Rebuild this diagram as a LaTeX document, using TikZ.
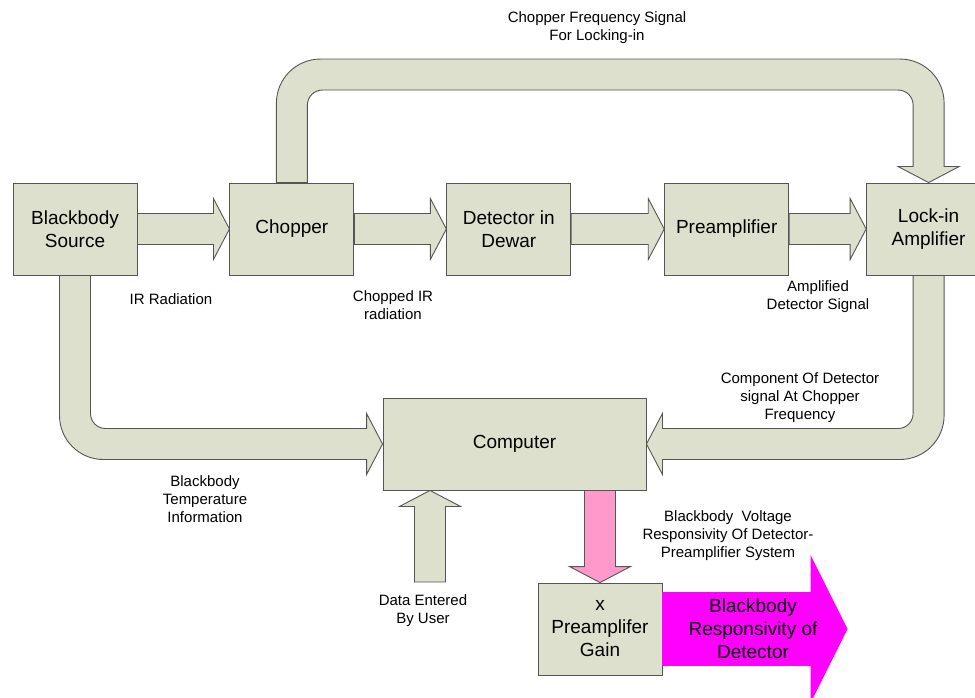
\documentclass[tikz,border=0pt]{standalone}
\usepackage{fontspec}
\setmainfont{Liberation Sans}
\usepackage{tikz}
\usetikzlibrary{positioning,calc}

\definecolor{boxfill}{RGB}{221,224,204}
\definecolor{boxline}{RGB}{85,85,85}
\definecolor{pinkarrow}{RGB}{255,153,204}
\definecolor{magarrow}{RGB}{255,0,255}

\tikzset{
  block/.style={rectangle, draw=boxline, fill=boxfill, line width=0.9pt, minimum width=124pt, minimum height=92pt, align=center, font=\fontsize{19}{23}\selectfont},
  lbl/.style={align=center, font=\fontsize{15}{18}\selectfont},
  fat/.style={draw=boxline, fill=boxfill, line width=0.9pt, line join=miter},
}

\begin{document}
\begin{tikzpicture}[x=1pt, y=-1pt]
        \useasboundingbox (0,0) rectangle (975,698);

        \node[block] (bbNode) at (75, 229) {Blackbody\\Source};
        \node[block] (chopNode) [right = 92pt of bbNode] {Chopper};
        \node[block] (detNode) [right = 92pt of chopNode] {Detector in\\Dewar};
        \node[block] (preNode) [right = 93pt of detNode] {Preamplifier};
        \node[block] (lockNode) [right = 77pt of preNode] {Lock-in\\Amplifier};
        \node[block, minimum width=263pt] (compNode) at (514.5, 444) {Computer};
        \node[block] (gainNode) at (600, 629) {x\\Preamplifer\\Gain};
        \coordinate (userPt) at (430, 582);
        \coordinate (userTip) at (compNode.south -| userPt);
        \coordinate (gainTop) at (compNode.south -| gainNode.north);
        \coordinate (respTip) at (847, 629);

        % straight arrows along the top row
        \foreach \a/\b in {bbNode/chopNode, chopNode/detNode, detNode/preNode, preNode/lockNode}
          \draw[fat] ($(\a.east)+(0,-15.5)$) -- ($(\b.west)+(-16,-15.5)$) -- ($(\b.west)+(-16,-30.5)$) -- (\b.west)
            -- ($(\b.west)+(-16,30.5)$) -- ($(\b.west)+(-16,15.5)$) -- ($(\a.east)+(0,15.5)$) -- cycle;

        % chopper -> lock-in
        \draw[fat] ($(chopNode.north)+(-15.5,0)$) [rounded corners=44pt] |- ($(lockNode.north)+(15.5,-123.5)$)
          [sharp corners] -- ($(lockNode.north)+(15.5,-16)$) -- ($(lockNode.north)+(30.5,-16)$) -- (lockNode.north)
          -- ($(lockNode.north)+(-30.5,-16)$) -- ($(lockNode.north)+(-15.5,-16)$)
          [rounded corners=15pt] -- ($(lockNode.north)+(-15.5,-92.5)$) -- ($(chopNode.north)+(15.5,-92.5)$)
          [sharp corners] -- ($(chopNode.north)+(15.5,0)$) -- cycle;

        % blackbody -> computer
        \draw[fat] ($(bbNode.south)+(-15.5,0)$) [rounded corners=44pt] |- ($(compNode.west)+(-150,15.5)$)
          [sharp corners] -- ($(compNode.west)+(-16,15.5)$) -- ($(compNode.west)+(-16,30.5)$) -- (compNode.west)
          -- ($(compNode.west)+(-16,-30.5)$) -- ($(compNode.west)+(-16,-15.5)$) -- ($(compNode.west)+(-150,-15.5)$)
          [rounded corners=15pt] -| ($(bbNode.south)+(15.5,100)$) [sharp corners] -- ($(bbNode.south)+(15.5,0)$) -- cycle;

        % lock-in -> computer
        \draw[fat] ($(lockNode.south)+(15.5,0)$) [rounded corners=44pt] |- ($(compNode.east)+(150,15.5)$)
          [sharp corners] -- ($(compNode.east)+(16,15.5)$) -- ($(compNode.east)+(16,30.5)$) -- (compNode.east)
          -- ($(compNode.east)+(16,-30.5)$) -- ($(compNode.east)+(16,-15.5)$) -- ($(compNode.east)+(150,-15.5)$)
          [rounded corners=15pt] -| ($(lockNode.south)+(-15.5,100)$) [sharp corners] -- ($(lockNode.south)+(-15.5,0)$) -- cycle;

        % user -> computer
        \draw[fat] ($(userPt)+(-15.5,0)$) -- ($(userTip)+(-15.5,16)$) -- ($(userTip)+(-30.5,16)$) -- (userTip)
          -- ($(userTip)+(30.5,16)$) -- ($(userTip)+(15.5,16)$) -- ($(userPt)+(15.5,0)$) -- cycle;

        % computer -> gain
        \draw[fat, fill=pinkarrow] ($(gainTop)+(-15.5,0)$) -- ($(gainNode.north)+(-15.5,-16)$) -- ($(gainNode.north)+(-30.5,-16)$) -- (gainNode.north)
          -- ($(gainNode.north)+(30.5,-16)$) -- ($(gainNode.north)+(15.5,-16)$) -- ($(gainTop)+(15.5,0)$) -- cycle;

        % gain -> result
        \draw[fat, draw=magarrow, fill=magarrow] ($(gainNode.east)+(0,-36.5)$) -- ($(respTip)+(-36,-36.5)$) -- ($(respTip)+(-36,-72)$) -- (respTip)
          -- ($(respTip)+(-36,72)$) -- ($(respTip)+(-36,36.5)$) -- ($(gainNode.east)+(0,36.5)$) -- cycle;
        \node[align=center, font=\fontsize{19}{23}\selectfont] (respText) at (753, 629) {Blackbody\\Responsivity of\\Detector};

        \node[lbl] (chopFreqLbl) at (597, 28) {Chopper Frequency Signal\\For Locking-in};
        \node[lbl] (irLbl) at (171, 299) {IR Radiation};
        \node[lbl] (choppedLbl) at (393, 305) {Chopped IR\\radiation};
        \node[lbl] (ampLbl) at (818, 297) {Amplified\\Detector Signal};
        \node[lbl] (compLbl) at (800, 398) {Component Of Detector\\signal At Chopper\\Frequency};
        \node[lbl] (tempLbl) at (205, 499) {Blackbody\\Temperature\\Information};
        \node[lbl] (voltLbl) at (728, 536) {Blackbody~ Voltage\\Responsivity Of Detector-\\Preamplifier System};
        \node[lbl] (userLbl) at (423, 611) {Data Entered\\By User};
      \end{tikzpicture}
\end{document}
